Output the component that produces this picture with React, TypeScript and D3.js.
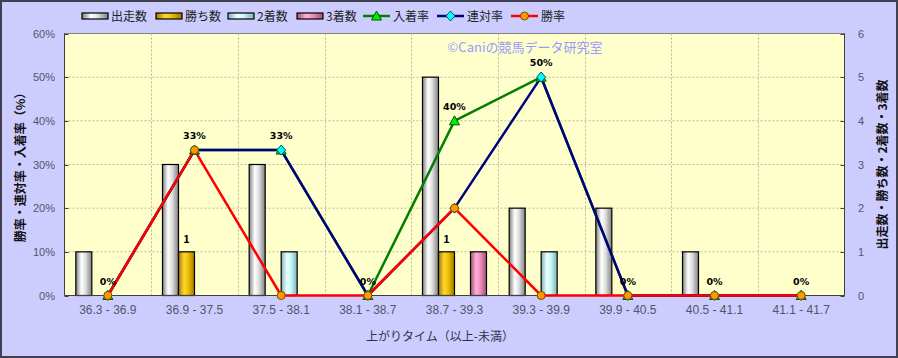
import React from "react";
import * as d3 from "d3";

const categories = ["36.3 - 36.9", "36.9 - 37.5", "37.5 - 38.1", "38.1 - 38.7", "38.7 - 39.3", "39.3 - 39.9", "39.9 - 40.5", "40.5 - 41.1", "41.1 - 41.7"];
const runs = [1, 3, 3, 0, 5, 2, 2, 1, 0];
const wins = [0, 1, 0, 0, 1, 0, 0, 0, 0];
const seconds = [0, 0, 1, 0, 0, 1, 0, 0, 0];
const thirds = [0, 0, 0, 0, 1, 0, 0, 0, 0];
const placeRate = [0, 33.3, 33.3, 0, 40, 50, 0, 0, 0];
const quinellaRate = [0, 33.3, 33.3, 0, 20, 50, 0, 0, 0];
const winRate = [0, 33.3, 0, 0, 20, 0, 0, 0, 0];
const pctTicks = [0, 10, 20, 30, 40, 50, 60];
const cntTicks = [0, 1, 2, 3, 4, 5, 6];

const W = 898, H = 358;
const L = 64.5, R = 844.5, T = 33.5, B = 295.5;

const barSeries = [
  { name: "出走数", data: runs, grad: "gSilver" },
  { name: "勝ち数", data: wins, grad: "gGold" },
  { name: "2着数", data: seconds, grad: "gCyan" },
  { name: "3着数", data: thirds, grad: "gPink" },
];

const lineSeries = [
  { name: "入着率", data: placeRate, color: "#008000", marker: "tri" },
  { name: "連対率", data: quinellaRate, color: "#000080", marker: "dia" },
  { name: "勝率", data: winRate, color: "#ff0000", marker: "circ" },
];

const font = "'Noto Sans CJK JP', 'DejaVu Sans', sans-serif";

function Marker({ type, x, y }: { type: string; x: number; y: number }) {
  if (type === "circ") return <circle cx={x} cy={y} r={4} fill="#ff9900" stroke="#7a4a00" strokeWidth={1} />;
  if (type === "dia") return <path d={`M${x},${y - 5}L${x + 4.5},${y}L${x},${y + 5}L${x - 4.5},${y}Z`} fill="#00ffff" stroke="#005566" strokeWidth={1} />;
  return <path d={`M${x},${y - 5}L${x + 5},${y + 4}L${x - 5},${y + 4}Z`} fill="#00ee00" stroke="#005500" strokeWidth={1} />;
}

function grad(id: string, edge: string, mid: string, light: string) {
  return (
    <linearGradient id={id} x1="0" x2="1" y1="0" y2="0">
      <stop offset="0" stopColor={edge} />
      <stop offset="0.35" stopColor={light} />
      <stop offset="0.6" stopColor={mid} />
      <stop offset="1" stopColor={edge} />
    </linearGradient>
  );
}

export default function App() {
  const x = d3.scaleBand<string>().domain(categories).range([L, R]).paddingInner(0).paddingOuter(0);
  const yP = d3.scaleLinear().domain([0, 60]).range([B, T]);
  const yC = d3.scaleLinear().domain([0, 6]).range([B, T]);
  const bw = 16;
  const cx = (c: string) => (x(c) as number) + x.bandwidth() / 2;

  const legendItems = [
    { kind: "bar", grad: "gSilver", label: "出走数", x: 82 },
    { kind: "bar", grad: "gGold", label: "勝ち数", x: 156 },
    { kind: "bar", grad: "gCyan", label: "2着数", x: 228 },
    { kind: "bar", grad: "gPink", label: "3着数", x: 297 },
    { kind: "line", color: "#008000", marker: "tri", label: "入着率", x: 363 },
    { kind: "line", color: "#000080", marker: "dia", label: "連対率", x: 437 },
    { kind: "line", color: "#ff0000", marker: "circ", label: "勝率", x: 511 },
  ];

  return (
    <svg width={W} height={H} style={{ position: "absolute", left: 0, top: 0 }} fontFamily={font}>
      <defs>
        {grad("gSilver", "#808080", "#e0e0e0", "#ffffff")}
        {grad("gGold", "#a07800", "#f0c000", "#ffd633")}
        {grad("gCyan", "#80b0b0", "#c8f8f8", "#e8ffff")}
        {grad("gPink", "#a05070", "#f090c0", "#ffb0d8")}
      </defs>
      <rect x={0} y={0} width={W} height={H} fill="#ccccff" />
      <rect x={1} y={1} width={W - 2} height={H - 2} fill="none" stroke="#404050" strokeWidth={2} />
      <rect x={L} y={T} width={R - L} height={B - T} fill="#ffffcc" stroke="#808080" strokeWidth={1} />
      {/* grid */}
      {pctTicks.slice(1, -1).map((t) => (
        <line key={"h" + t} x1={L} x2={R} y1={yP(t)} y2={yP(t)} stroke="#b8b8a0" strokeDasharray="2,2" strokeWidth={1} />
      ))}
      {categories.slice(1).map((c) => (
        <line key={"v" + c} x1={Math.round(x(c) as number) + 0.5} x2={Math.round(x(c) as number) + 0.5} y1={T} y2={B} stroke="#b8b8a0" strokeDasharray="2,2" strokeWidth={1} />
      ))}
      {/* watermark */}
      <text x={525} y={52} textAnchor="middle" fontSize={13} fill="#9999ff">©Caniの競馬データ研究室</text>
      {/* bars */}
      {barSeries.map((s, si) =>
        categories.map((c, i) =>
          s.data[i] > 0 ? (
            <rect key={s.name + c} x={cx(c) - 32 + si * bw} y={yC(s.data[i])} width={bw} height={B - yC(s.data[i])} fill={`url(#${s.grad})`} stroke="#000" strokeWidth={1.2} />
          ) : null
        )
      )}
      {/* win count labels */}
      {categories.map((c, i) =>
        wins[i] > 0 ? (
          <text key={"wl" + c} x={cx(c) - 32 + bw + bw / 2} y={yC(wins[i]) - 9} textAnchor="middle" fontSize={11} fontWeight="bold" fill="#000">{wins[i]}</text>
        ) : null
      )}
      {/* axes */}
      <line x1={L} x2={L} y1={T} y2={B} stroke="#404040" />
      <line x1={R} x2={R} y1={T} y2={B} stroke="#404040" />
      <line x1={L} x2={R} y1={B} y2={B} stroke="#404040" />
      {pctTicks.map((t) => (
        <g key={"lt" + t}>
          <line x1={L} x2={L + 4} y1={Math.round(yP(t)) + 0.5} y2={Math.round(yP(t)) + 0.5} stroke="#404040" />
          <text x={55} y={yP(t) + 4} textAnchor="end" fontSize={11} fill="#555566" fontFamily="'Liberation Sans', Arial, sans-serif">{t}%</text>
        </g>
      ))}
      {cntTicks.map((t) => (
        <g key={"rt" + t}>
          <line x1={R - 4} x2={R} y1={Math.round(yC(t)) + 0.5} y2={Math.round(yC(t)) + 0.5} stroke="#404040" />
          <text x={858} y={yC(t) + 4} textAnchor="start" fontSize={11} fill="#555566" fontFamily="'Liberation Sans', Arial, sans-serif">{t}</text>
        </g>
      ))}
      {categories.map((c) => (
        <text key={"xl" + c} x={cx(c)} y={314} textAnchor="middle" fontSize={12} fill="#555566" fontFamily="'Liberation Sans', Arial, sans-serif">{c}</text>
      ))}
      <text x={440} y={341} textAnchor="middle" fontSize={12} fill="#333344">上がりタイム（以上-未満）</text>
      <text transform={`translate(25,${(T + B) / 2}) rotate(-90)`} textAnchor="middle" fontSize={12} fontWeight="bold" fill="#111">勝率・連対率・入着率（%）</text>
      <text transform={`translate(887,${(T + B) / 2}) rotate(-90)`} textAnchor="middle" fontSize={12} fontWeight="bold" fill="#111">出走数・勝ち数・2着数・3着数</text>
      {/* lines */}
      {lineSeries.map((s) => {
        const line = d3.line<number>().x((_, i) => cx(categories[i])).y((d) => yP(d));
        return <path key={s.name} d={line(s.data) || ""} fill="none" stroke={s.color} strokeWidth={2.5} strokeLinejoin="round" />;
      })}
      {lineSeries.map((s) =>
        s.data.map((d, i) => <Marker key={s.name + i} type={s.marker} x={cx(categories[i])} y={yP(d)} />)
      )}
      {/* rate labels */}
      {placeRate.map((d, i) => (
        <text key={"pl" + i} x={cx(categories[i])} y={yP(d) - 11} textAnchor="middle" fontSize={9.5} fontWeight="bold" fill="#000" fontFamily="'DejaVu Sans', sans-serif">{Math.round(d)}%</text>
      ))}
      {/* legend */}
      {legendItems.map((it) => (
        <g key={it.label}>
          {it.kind === "bar" ? (
            <rect x={it.x} y={13} width={26} height={6} fill={`url(#${it.grad})`} stroke="#000" strokeWidth={1.2} />
          ) : (
            <g>
              <line x1={it.x} x2={it.x + 27} y1={16} y2={16} stroke={it.color} strokeWidth={2.5} />
              <Marker type={it.marker as string} x={it.x + 13.5} y={16} />
            </g>
          )}
          <text x={it.x + (it.kind === "bar" ? 29 : 30)} y={20.5} fontSize={12} fill="#222">{it.label}</text>
        </g>
      ))}
    </svg>
  );
}
